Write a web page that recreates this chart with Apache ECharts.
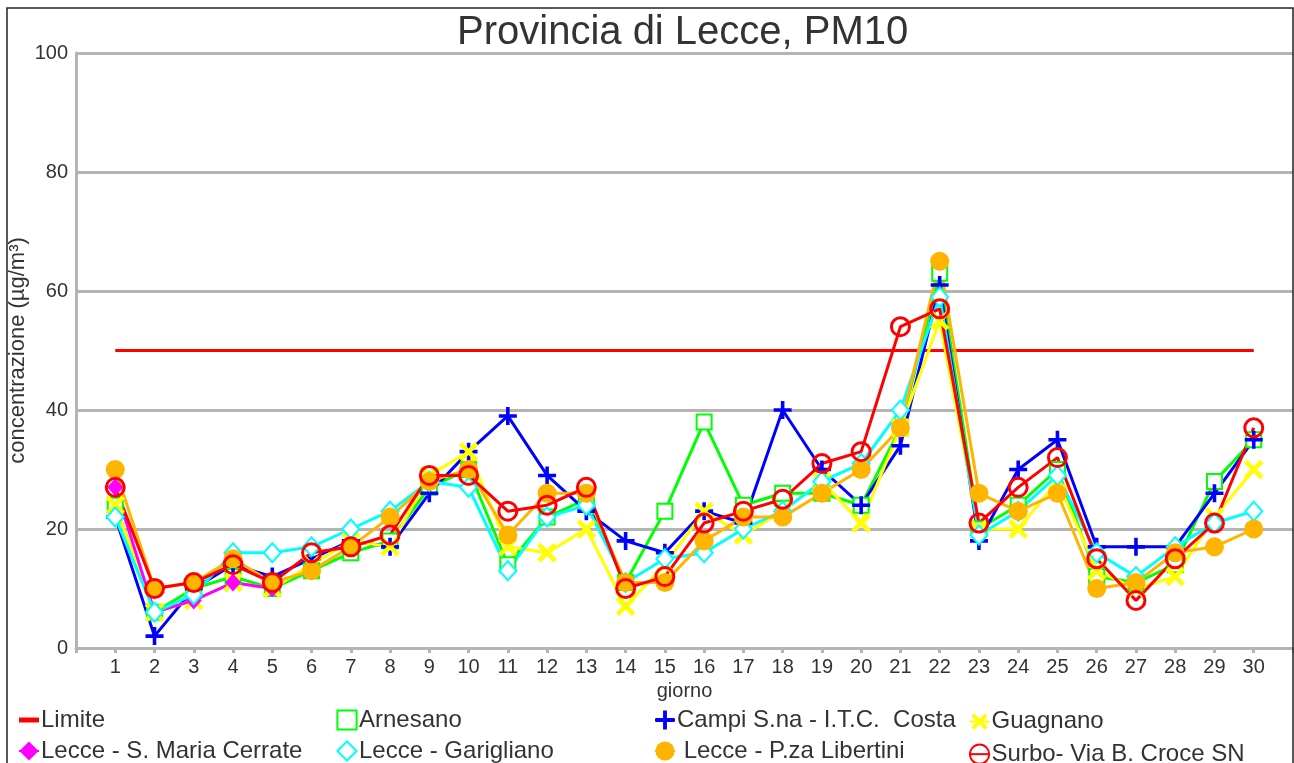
<!DOCTYPE html>
<html lang="it">
<head>
    <meta charset="UTF-8">
    <title>Provincia di Lecce, PM10</title>
    <script src="https://cdn.jsdelivr.net/npm/echarts@6/dist/echarts.min.js"></script>
    <style>
        body { margin: 0; background: #fff; }
    </style>
</head>
<body>
    <div id="main" style="width: 1294px;height:763px;"></div>
    <script type="text/javascript">
        var myChart = echarts.init(document.getElementById('main'));

        // giorni del mese
        let giorni = [1, 2, 3, 4, 5, 6, 7, 8, 9, 10, 11, 12, 13, 14, 15, 16, 17, 18, 19, 20, 21, 22, 23, 24, 25, 26, 27, 28, 29, 30];
        let yTicks = [0, 20, 40, 60, 80, 100];

        let limite = [50, 50, 50, 50, 50, 50, 50, 50, 50, 50, 50, 50, 50, 50, 50, 50, 50, 50, 50, 50, 50, 50, 50, 50, 50, 50, 50, 50, 50, 50];
        let arnesano = [24, 6, 10, 12, 10, 13, 16, 18, 27, 30, 14, 22, 25, 11, 23, 38, 24, 26, 26, 24, 37, 63, 20, 24, 30, 12, 11, 14, 28, 35];
        let campi = [22, 2, 10, 14, 12, 15, 18, 17, 26, 33, 39, 29, 23, 18, 16, 23, 21, 40, 30, 24, 34, 61, 18, 30, 35, 17, 17, 17, 26, 35];
        let guagnano = [24, 6, 8, 11, 10, 14, 18, 17, 29, 33, 17, 16, 20, 7, 14, 23, 19, 23, 28, 21, 37, 55, 20, 20, 28, 13, 10, 12, 22, 30];
        let cerrate = [27, 6, 8, 11, 10, null, null, null, null, null, null, null, null, null, null, null, null, null, null, null, null, null, null, null, null, null, null, null, null, null];
        let garigliano = [22, 6, 9, 16, 16, 17, 20, 23, 28, 27, 13, 22, 24, 11, 15, 16, 20, 23, 28, 31, 40, 59, 19, 23, 29, 16, 12, 17, 21, 23];
        let libertini = [30, 10, 11, 15, 11, 13, 17, 22, 28, 30, 19, 26, 26, 11, 11, 18, 22, 22, 26, 30, 37, 65, 26, 23, 26, 10, 11, 16, 17, 20];
        let surbo = [27, 10, 11, 14, 11, 16, 17, 19, 29, 29, 23, 24, 27, 10, 12, 21, 23, 25, 31, 33, 54, 57, 21, 27, 32, 15, 8, 15, 21, 37];

        let font = 'Liberation Sans, Arial, sans-serif';
        let grigio = '#b4b4b4';
        let croce = 'path://M6.4,0H9.6V6.4H16V9.6H9.6V16H6.4V9.6H0V6.4H6.4Z';

        // coppie [giorno, valore]
        let coppie = (arr) => giorni.map((g, i) => [g, arr[i]]);

        let serie = (name, color, arr, sym) => {
            let s = {
                name: name,
                type: 'line',
                data: coppie(arr),
                lineStyle: {width: 3, color: color},
                itemStyle: {color: color},
                showAllSymbol: true,
                emphasis: {disabled: true},
                connectNulls: false,
            };
            return Object.assign(s, sym);
        };

        let option = {
            animation: false,
            backgroundColor: '#fff',
            title: {
                text: 'Provincia di Lecce, PM10',
                left: 452,
                top: 8,
                textStyle: {fontFamily: font, fontSize: 40, fontWeight: 'normal', color: '#333'},
            },
            graphic: [{
                type: 'rect',
                shape: {x: 7, y: 8, width: 1286, height: 770},
                style: {fill: 'none', stroke: '#222', lineWidth: 1.5},
                silent: true,
                z: 100,
            }],
            legend: [
                {data: [{name: 'Limite', icon: 'path://M0,0H20V5H0Z'}, 'Lecce - S. Maria Cerrate'], left: 18},
                {data: ['Arnesano', 'Lecce - Garigliano'], left: 336},
                {data: ['Campi S.na - I.T.C.  Costa', 'Lecce - P.za Libertini'], left: 654},
                {data: ['Guagnano', 'Surbo- Via B. Croce SN'], left: 966},
            ].map(l => Object.assign({
                orient: 'vertical',
                top: 708,
                height: 90,
                itemWidth: 20,
                itemHeight: 24,
                itemGap: 7,
                padding: 0,
                selectedMode: false,
                formatter: (n) => n === 'Lecce - P.za Libertini' ? ' ' + n : n,
                textStyle: {fontFamily: font, fontSize: 24, color: '#333', lineHeight: 24, padding: [0, 0, 0, -3]},
            }, l)),
            grid: {
                left: 76,
                right: 1,
                top: 53,
                bottom: 115,
                containLabel: false,
                outerBoundsMode: 'none',
            },
            xAxis: {
                type: 'value',
                min: 0,
                max: 31,
                interval: 1,
                name: 'giorno',
                nameLocation: 'middle',
                nameGap: 33,
                nameMoveOverlap: false,
                nameTextStyle: {fontFamily: font, fontSize: 20, color: '#333'},
                splitLine: {show: false},
                axisLine: {lineStyle: {color: grigio, width: 3}},
                axisTick: {show: true, length: 5, lineStyle: {color: grigio, width: 3}},
                axisLabel: {
                    fontFamily: font, fontSize: 20, color: '#333', margin: 9,
                    formatter: (v) => giorni.indexOf(v) >= 0 ? String(v) : '',
                },
            },
            yAxis: {
                type: 'value',
                min: yTicks[0],
                max: yTicks[yTicks.length - 1],
                interval: 20,
                name: 'concentrazione (µg/m³)',
                nameLocation: 'middle',
                nameRotate: 90,
                nameGap: 47,
                nameMoveOverlap: false,
                nameTextStyle: {fontFamily: font, fontSize: 22, color: '#333'},
                axisLine: {show: true, lineStyle: {color: grigio, width: 3}},
                axisTick: {show: false},
                splitLine: {lineStyle: {color: grigio, width: 3}},
                axisLabel: {fontFamily: font, fontSize: 20, color: '#333', margin: 8},
            },
            series: [
                serie('Limite', '#ff0000', limite, {symbol: 'none', showSymbol: false}),
                serie('Arnesano', '#00ff00', arnesano, {symbol: 'emptyRect', symbolSize: 15, itemStyle: {color: '#00ff00', borderWidth: 3}}),
                serie('Campi S.na - I.T.C.  Costa', '#0000ff', campi, {symbol: croce, symbolSize: 18}),
                serie('Guagnano', '#ffff00', guagnano, {symbol: croce, symbolSize: 23, symbolRotate: 45}),
                serie('Lecce - S. Maria Cerrate', '#ff00ff', cerrate, {symbol: 'diamond', symbolSize: [16, 18]}),
                serie('Lecce - Garigliano', '#00ffff', garigliano, {symbol: 'emptyDiamond', symbolSize: [17, 19], itemStyle: {color: '#00ffff', borderWidth: 3}}),
                serie('Lecce - P.za Libertini', '#ffb400', libertini, {symbol: 'circle', symbolSize: 19}),
                serie('Surbo- Via B. Croce SN', '#ff0000', surbo, {symbol: 'circle', symbolSize: 18, itemStyle: {color: 'rgba(255,0,0,0)', borderColor: '#ff0000', borderWidth: 3}}),
            ]
        };

        myChart.setOption(option);
    </script>
</body>
</html>
